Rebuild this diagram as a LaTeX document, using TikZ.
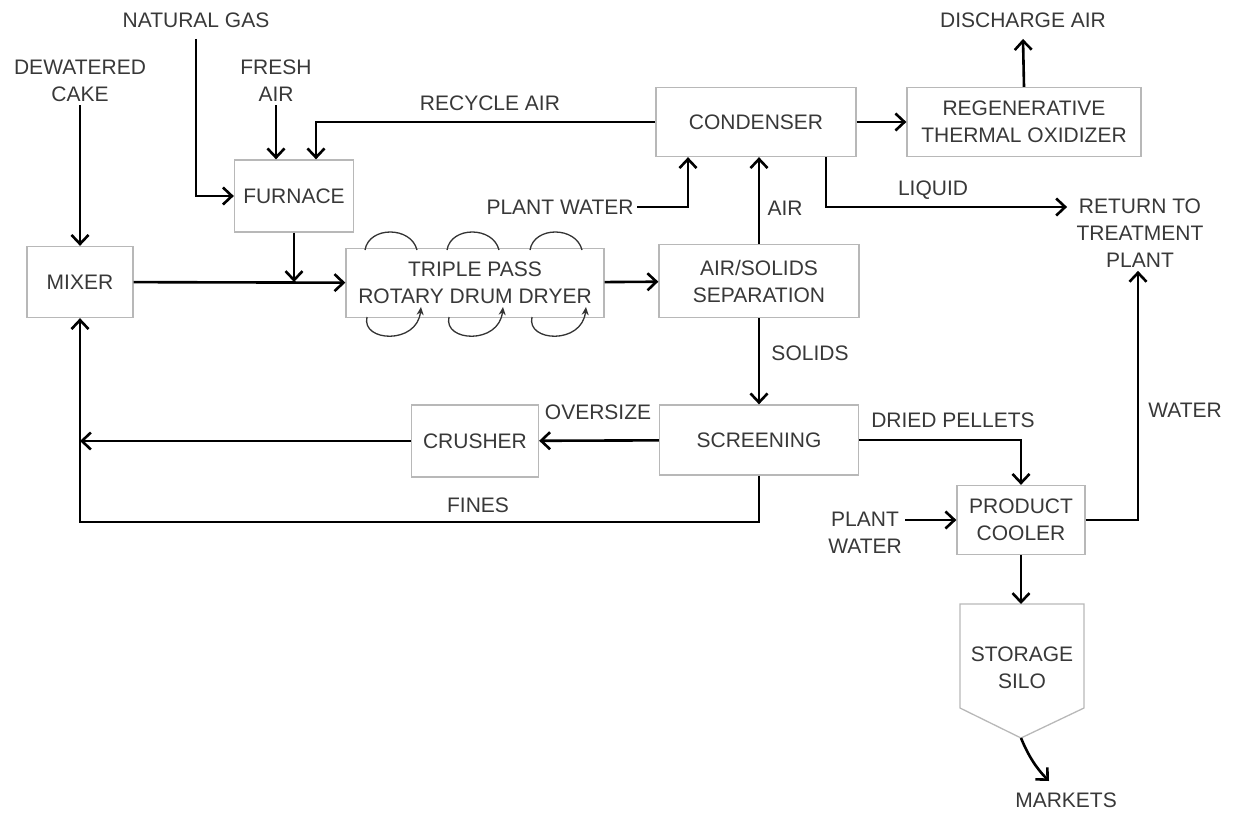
\documentclass[tikz,border=0pt]{standalone}
\usepackage{fontspec}
\setmainfont{Liberation Sans}
\usetikzlibrary{arrows.meta}
\tikzset{
  unit/.style={draw=black!28, line width=1.3pt, text=black!78, align=center, inner sep=0pt},
  lbl/.style={text=black!78, align=center},
  flow/.style={draw=black, line width=2.6pt, -{Straight Barb[length=9pt,width=17pt,line width=2.6pt]}},
  swirl/.style={draw=black!80, line width=1.3pt},
}
\begin{document}
\begin{tikzpicture}[x=1pt,y=-1pt,font=\fontsize{21}{27}\selectfont]
\useasboundingbox (0,0) rectangle (1236,816);

%Shape: process boxes
\node[unit, minimum width=106pt, minimum height=71pt] (mixer) at (80,282) {MIXER};
\node[unit, minimum width=119pt, minimum height=72pt] (furnace) at (294,196) {FURNACE};
\node[unit, minimum width=258pt, minimum height=69pt] (dryer) at (475,283) {TRIPLE PASS\\ROTARY DRUM DRYER};
\node[unit, minimum width=200pt, minimum height=73pt] (sep) at (759,281) {AIR/SOLIDS\\SEPARATION};
\node[unit, minimum width=200pt, minimum height=69pt] (cond) at (756,122) {CONDENSER};
\node[unit, minimum width=234pt, minimum height=69pt] (rto) at (1024,122) {REGENERATIVE\\THERMAL OXIDIZER};
\node[unit, minimum width=199pt, minimum height=70pt] (screen) at (759,440) {SCREENING};
\node[unit, minimum width=127pt, minimum height=72pt] (crusher) at (475,441) {CRUSHER};
\node[unit, minimum width=128pt, minimum height=69pt] (cooler) at (1021,520) {PRODUCT\\COOLER};

%Shape: storage silo
\draw[black!28, line width=1.3pt] (960,604) -- (1084,604) -- (1084,708) -- (1021,738) -- (960,708) -- cycle;
\coordinate (siltop) at (1021,604);
\coordinate (siltip) at (1021,738);
\node[lbl] (silo) at (1022,668) {STORAGE\\SILO};

% Text Node
\node[lbl] (gas) at (196,20) {NATURAL GAS};
\node[lbl] (cake) at (80,81) {DEWATERED\\CAKE};
\node[lbl] (fresh) at (276,81) {FRESH\\AIR};
\node[lbl] (discharge) at (1023,20) {DISCHARGE AIR};
\node[lbl] (recycle) at (490,103) {RECYCLE AIR};
\node[lbl] (pw1) at (560,207) {PLANT WATER};
\node[lbl] (air) at (785,208) {AIR};
\node[lbl] (liquid) at (933,190) {LIQUID};
\node[lbl] (ret) at (1140,233) {RETURN TO\\TREATMENT\\PLANT};
\node[lbl] (solids) at (810,353) {SOLIDS};
\node[lbl] (oversize) at (598,412) {OVERSIZE};
\node[lbl] (pellets) at (953,420) {DRIED PELLETS};
\node[lbl] (water) at (1185,410) {WATER};
\node[lbl] (fines) at (478,505) {FINES};
\node[lbl] (pw2) at (865,533) {PLANT\\WATER};
\node[lbl] (markets) at (1066,800) {MARKETS};

%Straight Lines: feeds
\draw[flow] (cake.south) -- (mixer.north);
\draw[flow] ([yshift=-8pt]gas.south) |- (furnace.west);
\draw[flow] (fresh.south) -- (fresh.south |- furnace.north);
\draw[flow] (cond.west) -| ([xshift=22pt]furnace.north);
\draw[flow] (furnace.south) -- (furnace.south |- mixer.east);
\draw[flow] (mixer) -- (dryer);
\draw[flow] (dryer) -- (sep);
\draw[flow] (sep.north) -- (cond.south -| sep.north);
\draw[flow] (pw1.east) -| ([xshift=-68pt]cond.south);
\draw[flow] (cond) -- (rto);
\draw[flow] (rto.north) -- ([yshift=-8pt]discharge.south);
\draw[flow] ([xshift=70pt]cond.south) |- ([xshift=-6pt,yshift=26pt]ret.west);

%Straight Lines: solids side
\draw[flow] (sep.south) -- (screen.north);
\draw[flow] (screen) -- (crusher);
\draw[flow] (crusher.west) -- (crusher.west -| mixer.south);
\coordinate (fbend) at (80,522);
\draw[flow] (screen.south) |- (fbend) -- (mixer.south);
\draw[flow] (screen.east) -| (cooler.north);
\draw[flow] (pw2.east |- cooler.west) -- (cooler.west);
\draw[flow] (cooler.east) -| ([xshift=-2pt]ret.south);
\draw[flow] (cooler.south) -- (siltop);

%Curve Lines: silo to markets
\draw[flow] (siltip) .. controls (1028,755) and (1036,768) .. (1049,781);

%Curve Lines: dryer passes
\foreach \lx in {365,447,530}{
  \draw[swirl] (\lx,250) .. controls (\lx+4,226) and (\lx+46,226) .. (\lx+52,250);
  \draw[swirl, -{Stealth[length=8pt,width=7pt]}] (\lx+2,317) .. controls (\lx-4,342) and (\lx+52,345) .. (\lx+56,307);
}

\end{tikzpicture}
\end{document}
